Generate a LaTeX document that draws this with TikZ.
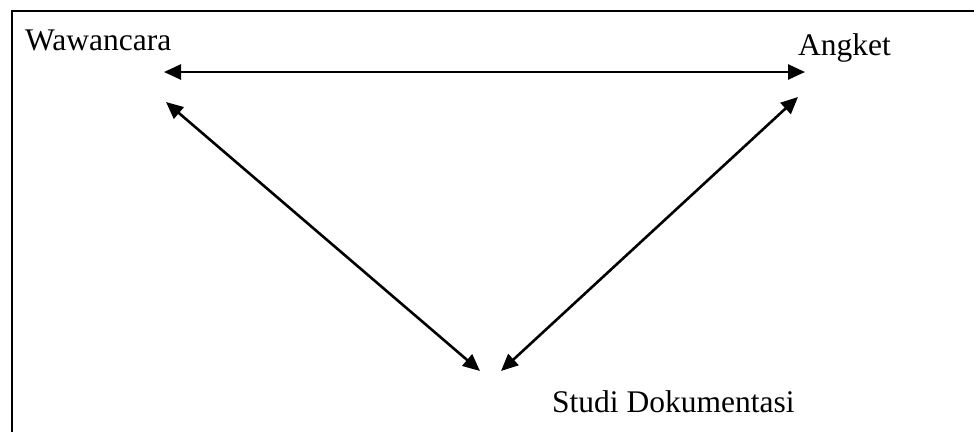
\documentclass[tikz,border=0pt]{standalone}
\usepackage{fontspec}
\setmainfont{Liberation Serif}
\usetikzlibrary{arrows.meta}
\begin{document}
\begin{tikzpicture}[x=1pt,y=-1pt,
  lbl/.style={inner sep=0pt,anchor=base west,font=\fontsize{31.5}{36}\selectfont},
  conn/.style={line width=2.6pt,{Triangle[length=17pt,width=15pt]}-{Triangle[length=17pt,width=15pt]}},
  frame/.style={line width=2.6pt}]
\useasboundingbox (0,0) rectangle (974,432);
\draw[frame] (12,432) -- (12,11) -- (974,11);
\node[lbl] (w) at (25,50) {Wawancara};
\node[lbl] (a) at (798,55) {Angket};
\node[lbl] (s) at (552,412) {Studi Dokumentasi};
\coordinate (wh) at (164,72);
\coordinate (ah) at (805,72);
\coordinate (wd) at (166,102);
\coordinate (sl) at (480,371);
\coordinate (ad) at (798,97);
\coordinate (sr) at (501,371);
\draw[conn] (wh) -- (ah);
\draw[conn] (wd) -- (sl);
\draw[conn] (ad) -- (sr);
\end{tikzpicture}
\end{document}
